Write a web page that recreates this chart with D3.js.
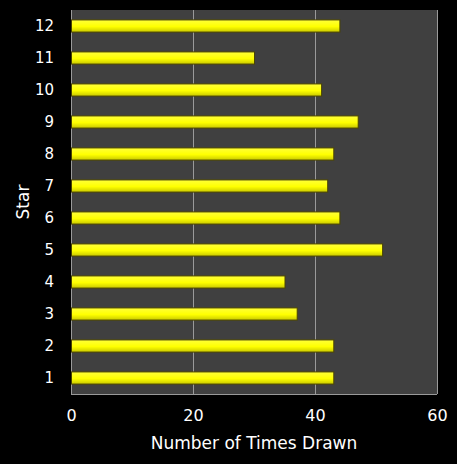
<!DOCTYPE html>
<html>
<head>
<meta charset="utf-8">
<script src="https://cdn.jsdelivr.net/npm/d3@7"></script>
<style>
  body { margin: 0; background: #000; }
  svg { display: block; }
</style>
</head>
<body>
<div id="chart"></div>
<script>
const stars = ["1", "2", "3", "4", "5", "6", "7", "8", "9", "10", "11", "12"];
const timesDrawn = [43, 43, 37, 35, 51, 44, 42, 43, 47, 41, 30, 44];
const xTicks = [0, 20, 40, 60];

const width = 457;
const height = 464;
const margin = { top: 10, right: 20, bottom: 70, left: 71 };
const innerWidth = 437 - margin.left;
const innerHeight = 394 - margin.top;

const data = stars.map((s, i) => ({ star: s, value: timesDrawn[i] }));

const svg = d3.select("#chart")
  .append("svg")
    .attr("width", width)
    .attr("height", height)
    .style("background", "#000");

// bar gradient
const defs = svg.append("defs");
const grad = defs.append("linearGradient")
    .attr("id", "barGrad")
    .attr("x1", 0).attr("y1", 0).attr("x2", 0).attr("y2", 1);
grad.append("stop").attr("offset", "0%").attr("stop-color", "#ffff3a");
grad.append("stop").attr("offset", "55%").attr("stop-color", "#ffff00");
grad.append("stop").attr("offset", "100%").attr("stop-color", "#c8c800");

const innerChart = svg.append("g")
    .attr("transform", `translate(${margin.left}, ${margin.top})`);

// scales
const xScale = d3.scaleLinear()
  .domain([0, 60])
  .range([0, innerWidth]);

const yScale = d3.scaleBand()
  .domain(stars.slice().reverse())
  .range([0, innerHeight])
  .paddingInner(0.62)
  .paddingOuter(0.31);

// plot background
innerChart.append("rect")
    .attr("width", innerWidth)
    .attr("height", innerHeight)
    .attr("fill", "#404040");

// gridlines
innerChart.selectAll(".grid")
  .data(xTicks)
  .join("line")
    .attr("class", "grid")
    .attr("x1", d => xScale(d))
    .attr("x2", d => xScale(d))
    .attr("y1", 0)
    .attr("y2", innerHeight)
    .attr("stroke", "#9a9a9a")
    .attr("stroke-width", 1)
    .attr("shape-rendering", "crispEdges");

innerChart.append("line")
    .attr("x1", 0).attr("x2", innerWidth)
    .attr("y1", innerHeight).attr("y2", innerHeight)
    .attr("stroke", "#9a9a9a")
    .attr("shape-rendering", "crispEdges");

// bars
innerChart.selectAll(".bar")
  .data(data)
  .join("rect")
    .attr("class", "bar")
    .attr("x", 0.5)
    .attr("y", d => yScale(d.star))
    .attr("width", d => xScale(d.value))
    .attr("height", yScale.bandwidth())
    .attr("fill", "url(#barGrad)")
    .attr("stroke", "#4a4400")
    .attr("stroke-width", 1);

// axes
const bottomAxis = d3.axisBottom(xScale)
  .tickValues(xTicks)
  .tickSize(0)
  .tickPadding(16);
innerChart.append("g")
    .attr("class", "x-axis")
    .attr("transform", `translate(0, ${innerHeight})`)
    .call(bottomAxis)
    .call(g => g.select(".domain").remove())
    .selectAll("text")
      .attr("fill", "#fff")
      .attr("font-size", "16px")
      .attr("font-family", "'DejaVu Sans', sans-serif");

const leftAxis = d3.axisLeft(yScale)
  .tickSize(0)
  .tickPadding(17);
innerChart.append("g")
    .attr("class", "y-axis")
    .call(leftAxis)
    .call(g => g.select(".domain").remove())
    .selectAll("text")
      .attr("fill", "#fff")
      .attr("font-size", "15px")
      .attr("font-family", "'DejaVu Sans', sans-serif");

// axis titles
svg.append("text")
    .text("Number of Times Drawn")
    .attr("text-anchor", "middle")
    .attr("x", margin.left + innerWidth / 2)
    .attr("y", 449)
    .attr("fill", "#fff")
    .attr("font-size", "17px")
    .attr("font-family", "'DejaVu Sans', sans-serif");

svg.append("text")
    .text("Star")
    .attr("text-anchor", "middle")
    .attr("transform", `translate(29, ${margin.top + innerHeight / 2}) rotate(-90)`)
    .attr("fill", "#fff")
    .attr("font-size", "17px")
    .attr("font-family", "'DejaVu Sans', sans-serif");
</script>
</body>
</html>
